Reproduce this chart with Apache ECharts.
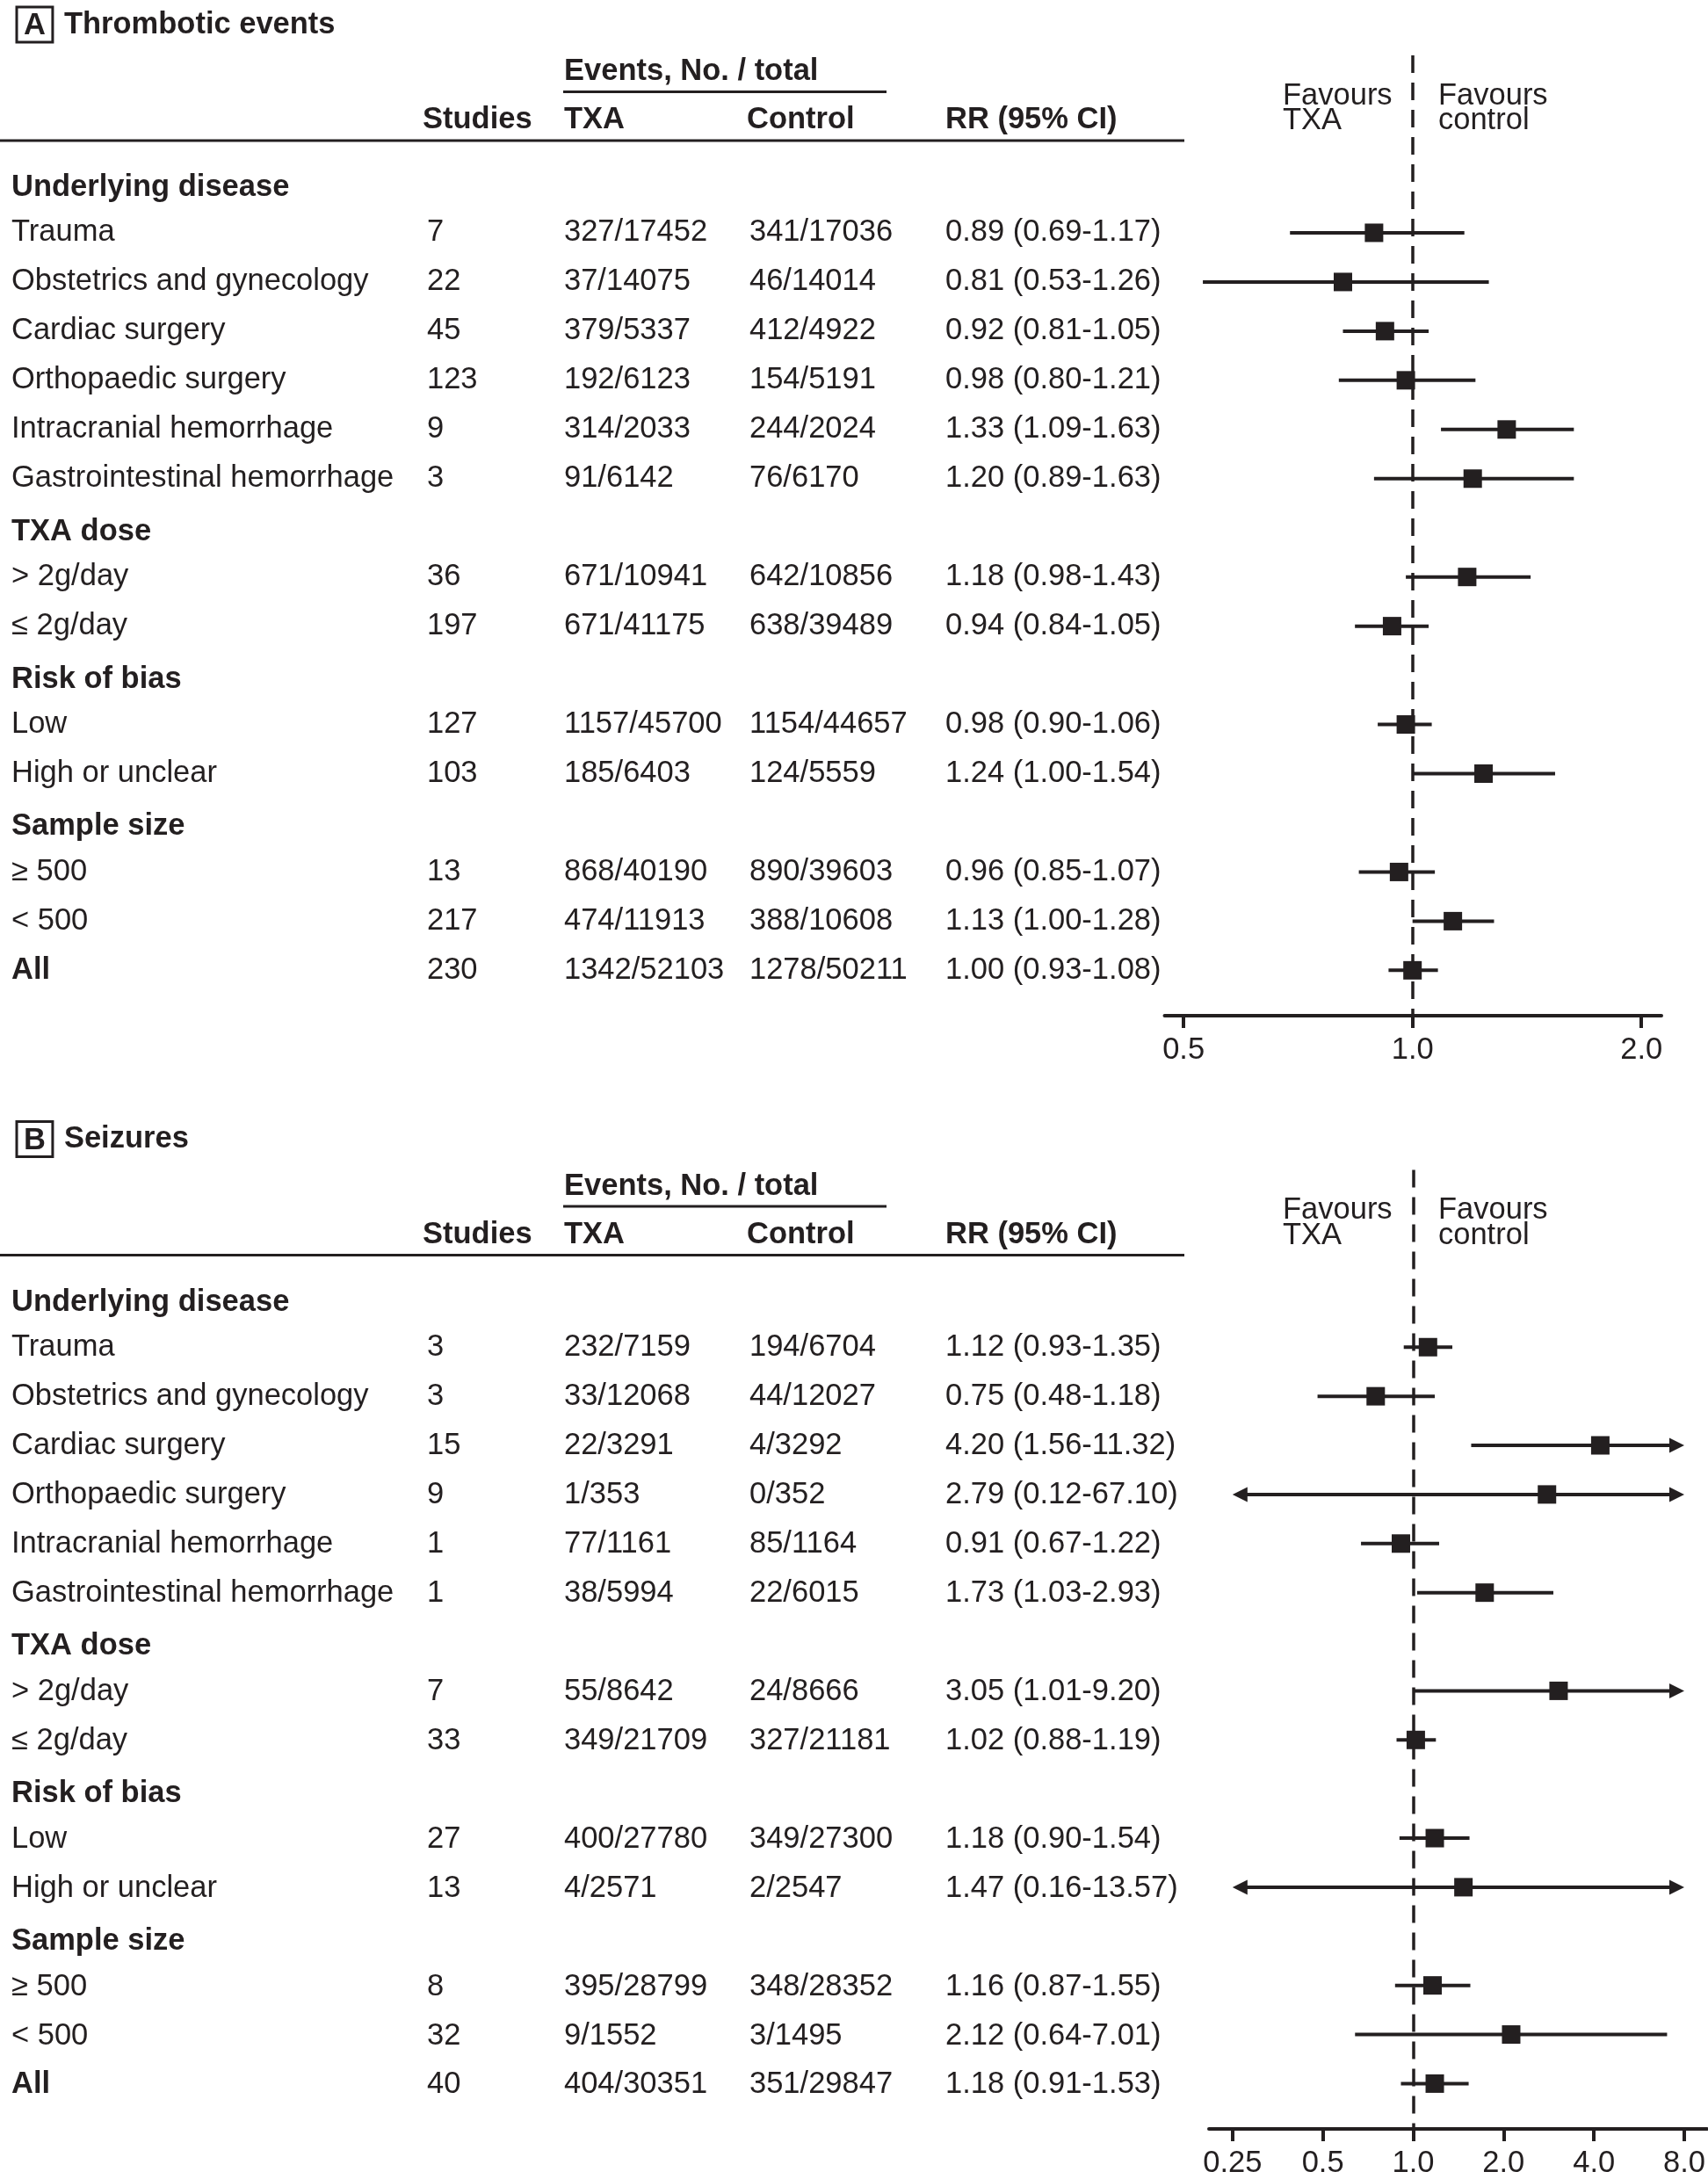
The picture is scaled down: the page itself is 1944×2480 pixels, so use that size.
<!DOCTYPE html>
<html><head><meta charset="utf-8">
<script src="https://cdn.jsdelivr.net/npm/echarts@6/dist/echarts.min.js"></script>
<style>html,body{margin:0;padding:0;background:#fff}#c{width:1944px;height:2480px}</style>
</head><body><div id="c"></div>
<script>
// ---------------- data ----------------
const rowLabels = ['Underlying disease','Trauma','Obstetrics and gynecology','Cardiac surgery','Orthopaedic surgery','Intracranial hemorrhage','Gastrointestinal hemorrhage','TXA dose','> 2g/day','≤ 2g/day','Risk of bias','Low','High or unclear','Sample size','≥ 500','< 500','All'];
const groupRows = ['Underlying disease','TXA dose','Risk of bias','Sample size'];
const boldRows = ['Underlying disease','TXA dose','Risk of bias','Sample size','All'];
const subgroups = ['Trauma','Obstetrics and gynecology','Cardiac surgery','Orthopaedic surgery','Intracranial hemorrhage','Gastrointestinal hemorrhage','> 2g/day','≤ 2g/day','Low','High or unclear','≥ 500','< 500','All'];

const titleA = 'Thrombotic events';
const studiesA = [7,22,45,123,9,3,36,197,127,103,13,217,230];
const txaA = ['327/17452','37/14075','379/5337','192/6123','314/2033','91/6142','671/10941','671/41175','1157/45700','185/6403','868/40190','474/11913','1342/52103'];
const controlA = ['341/17036','46/14014','412/4922','154/5191','244/2024','76/6170','642/10856','638/39489','1154/44657','124/5559','890/39603','388/10608','1278/50211'];
const rrA = [0.89,0.81,0.92,0.98,1.33,1.20,1.18,0.94,0.98,1.24,0.96,1.13,1.00];
const loA = [0.69,0.53,0.81,0.80,1.09,0.89,0.98,0.84,0.90,1.00,0.85,1.00,0.93];
const hiA = [1.17,1.26,1.05,1.21,1.63,1.63,1.43,1.05,1.06,1.54,1.07,1.28,1.08];
const ticksA = [0.5, 1, 2];

const titleB = 'Seizures';
const studiesB = [3,3,15,9,1,1,7,33,27,13,8,32,40];
const txaB = ['232/7159','33/12068','22/3291','1/353','77/1161','38/5994','55/8642','349/21709','400/27780','4/2571','395/28799','9/1552','404/30351'];
const controlB = ['194/6704','44/12027','4/3292','0/352','85/1164','22/6015','24/8666','327/21181','349/27300','2/2547','348/28352','3/1495','351/29847'];
const rrB = [1.12,0.75,4.20,2.79,0.91,1.73,3.05,1.02,1.18,1.47,1.16,2.12,1.18];
const loB = [0.93,0.48,1.56,0.12,0.67,1.03,1.01,0.88,0.90,0.16,0.87,0.64,0.91];
const hiB = [1.35,1.18,11.32,67.10,1.22,2.93,9.20,1.19,1.54,13.57,1.55,7.01,1.53];
const ticksB = [0.25, 0.5, 1, 2, 4, 8];

const headerCols = ['Studies','TXA','Control','RR (95% CI)'];
const eventsHeader = 'Events, No. / total';
const favoursLeft = 'Favours\nTXA';
const favoursRight = 'Favours\ncontrol';

// ---------------- layout / style ----------------
const FONT = '"Liberation Sans", Arial, Helvetica, sans-serif';
const INK = '#231f20';
const FS = 34.5;
const PANEL_DY = 1268.6;
const GRID_TOP = 63, GRID_H = 1093;
const Y_MIN = -2.609, Y_MAX = 16.923;
const TABLE_W = 1348;
const COL = {label: 13, studies: 486, txa: 642, control: 853, rr: 1076};
const HDR = {events: -2.27, underline: -1.869, cols: -1.29, rule: -0.876, favours: -1.53};
const GROUP_SHIFT = 0.08;
const FAV_X = [1460, 1637];
const UNDERLINE_X = [641, 1009];

const panels = [
  {letter:'A', title:titleA, studies:studiesA, txa:txaA, control:controlA, rr:rrA, lo:loA, hi:hiA, ticks:ticksA,
   xMin:0.4720, xMax:2.125, left:1325.5, width:565.5, clip:[0, Infinity]},
  {letter:'B', title:titleB, studies:studiesB, txa:txaB, control:controlB, rr:rrB, lo:loB, hi:hiB, ticks:ticksB,
   xMin:0.2087, xMax:9.51, left:1376, width:568, clip:[0.25, 8]}
];

function txt(x, y, text, bold, extra) {
  return Object.assign({type:'text', x, y, style:{text, fontSize:FS, fontFamily:FONT, fontWeight: bold ? 'bold' : 'normal',
    fill:INK, align:'left', verticalAlign:'middle'}}, extra || {});
}
function fmtTick(v) {
  const r = Math.round(v * 100) / 100;
  return r === 0.25 ? '0.25' : r.toFixed(1);
}

const grid = [], xAxis = [], yAxis = [], series = [], title = [];
panels.forEach((p, i) => {
  const top = GRID_TOP + i * PANEL_DY;
  const gT = grid.length;
  grid.push({left:0, top, width:TABLE_W, height:GRID_H});
  grid.push({left:p.left, top, width:p.width, height:GRID_H});
  const gF = gT + 1;
  xAxis.push({gridIndex:gT, type:'value', min:0, max:TABLE_W, show:false});
  xAxis.push({gridIndex:gF, type:'log', logBase:2, min:p.xMin, max:p.xMax,
    axisLine:{show:true, onZero:false, lineStyle:{color:INK, width:4}},
    axisTick:{show:true, customValues:p.ticks, length:14, lineStyle:{color:INK, width:4}},
    axisLabel:{show:true, customValues:p.ticks, formatter:fmtTick, fontSize:FS, fontFamily:FONT, color:INK, margin:22},
    splitLine:{show:false}, minorTick:{show:false}});
  yAxis.push({gridIndex:gT, type:'value', inverse:true, min:Y_MIN, max:Y_MAX, show:false});
  yAxis.push({gridIndex:gF, type:'value', inverse:true, min:Y_MIN, max:Y_MAX, show:false});

  title.push({left:19, top:10 + i * PANEL_DY, padding:0,
    text:'{b|' + p.letter + '}{t|' + p.title + '}',
    textStyle:{rich:{
      b:{fontSize:FS, fontWeight:'bold', fontFamily:FONT, color:INK, borderColor:INK, borderWidth:3, padding:[4,8,1,8], lineHeight:36},
      t:{fontSize:FS, fontWeight:'bold', fontFamily:FONT, color:INK, padding:[0,0,0,13]}
    }}});

  // headers
  series.push({type:'custom', xAxisIndex:gT, yAxisIndex:gT, silent:true, clip:false,
    data:[[0, 0]], encode:{x:0, y:1},
    renderItem:(params, api) => {
      const ch = [];
      const e = api.coord([COL.txa, HDR.events]);
      ch.push(txt(e[0], e[1], eventsHeader, true));
      const u1 = api.coord([UNDERLINE_X[0], HDR.underline]), u2 = api.coord([UNDERLINE_X[1], HDR.underline]);
      ch.push({type:'line', shape:{x1:u1[0], y1:u1[1], x2:u2[0], y2:u2[1]}, style:{stroke:INK, lineWidth:3}});
      [COL.studies - 5, COL.txa, COL.control - 3, COL.rr].forEach((cx, k) => {
        const c = api.coord([cx, HDR.cols]);
        ch.push(txt(c[0], c[1], headerCols[k], true));
      });
      const r1 = api.coord([0, HDR.rule]), r2 = api.coord([TABLE_W, HDR.rule]);
      ch.push({type:'line', shape:{x1:r1[0], y1:r1[1], x2:r2[0], y2:r2[1]}, style:{stroke:INK, lineWidth:3}});
      [favoursLeft, favoursRight].forEach((t, k) => {
        const c = api.coord([FAV_X[k], HDR.favours]);
        ch.push({type:'text', x:c[0], y:c[1], style:{text:t, fontSize:FS, fontFamily:FONT, fill:INK, align:'left', verticalAlign:'middle', lineHeight:28.5}});
      });
      return {type:'group', children:ch};
    }});

  // table rows
  series.push({type:'custom', xAxisIndex:gT, yAxisIndex:gT, silent:true, clip:false,
    data: rowLabels.map((_, r) => [0, r]), encode:{x:0, y:1},
    renderItem:(params, api) => {
      const r = api.value(1);
      const label = rowLabels[r];
      const ch = [];
      const a = api.coord([COL.label, r + (groupRows.includes(label) ? GROUP_SHIFT : 0)]);
      ch.push(txt(a[0], a[1], label, boldRows.includes(label)));
      const k = subgroups.indexOf(label);
      if (k >= 0) {
        const vals = [String(p.studies[k]), p.txa[k], p.control[k],
          p.rr[k].toFixed(2) + ' (' + p.lo[k].toFixed(2) + '-' + p.hi[k].toFixed(2) + ')'];
        [COL.studies, COL.txa, COL.control, COL.rr].forEach((cx, j) => {
          const c = api.coord([cx, r]);
          ch.push(txt(c[0], c[1], vals[j], false));
        });
      }
      return {type:'group', children:ch};
    }});

  // CI lines with arrows
  const rows = subgroups.map(s => rowLabels.indexOf(s));
  series.push({type:'custom', xAxisIndex:gF, yAxisIndex:gF, silent:true, clip:false, z:3,
    data: rows.map((r, k) => [r, p.lo[k], p.hi[k]]), encode:{x:[1, 2], y:0},
    renderItem:(params, api) => {
      const r = api.value(0), lo = api.value(1), hi = api.value(2);
      const l = Math.max(lo, p.clip[0]), h = Math.min(hi, p.clip[1]);
      const p1 = api.coord([l, r]), p2 = api.coord([h, r]);
      const AL = 17, AH = 8.5;
      const x1 = lo < p.clip[0] ? p1[0] + AL - 1 : p1[0];
      const x2 = hi > p.clip[1] ? p2[0] - AL + 1 : p2[0];
      const ch = [{type:'line', shape:{x1:x1, y1:p1[1], x2:x2, y2:p2[1]}, style:{stroke:INK, lineWidth:4}}];
      if (hi > p.clip[1]) ch.push({type:'polygon', shape:{points:[[p2[0], p2[1]], [p2[0]-AL, p2[1]-AH], [p2[0]-AL, p2[1]+AH]]}, style:{fill:INK}});
      if (lo < p.clip[0]) ch.push({type:'polygon', shape:{points:[[p1[0], p1[1]], [p1[0]+AL, p1[1]-AH], [p1[0]+AL, p1[1]+AH]]}, style:{fill:INK}});
      return {type:'group', children:ch};
    }});

  // point estimates + reference line
  series.push({type:'scatter', xAxisIndex:gF, yAxisIndex:gF, silent:true, z:4,
    symbol:'rect', symbolSize:21, itemStyle:{color:INK, opacity:1},
    data: rows.map((r, k) => [p.rr[k], r]),
    markLine:{silent:true, symbol:['none','none'], label:{show:false}, z:2,
      lineStyle:{color:INK, width:3.5, type:[20, 11]}, data:[{xAxis:1}]}});
});

const chart = echarts.init(document.getElementById('c'), null, {renderer:'canvas', width:1944, height:2480});
chart.setOption({animation:false, backgroundColor:'#fff', title, grid, xAxis, yAxis, series});
</script></body></html>
